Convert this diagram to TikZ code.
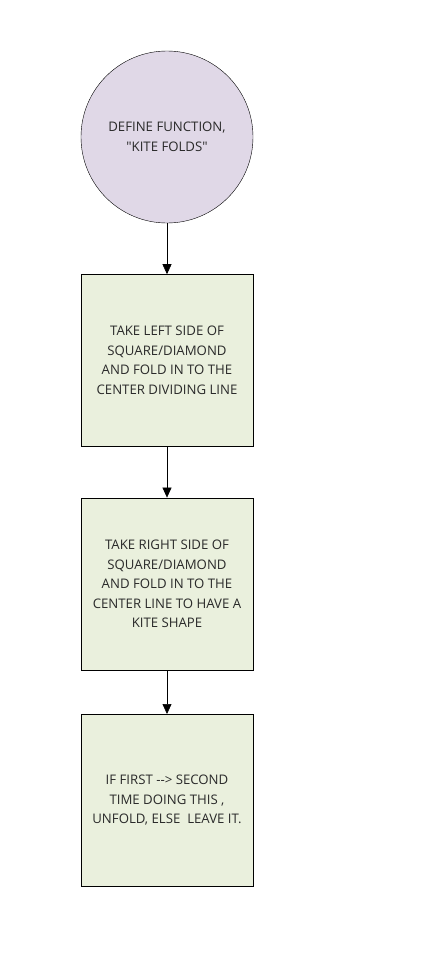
\documentclass[tikz,border=0pt]{standalone}
\usepackage{fontspec}
\setmainfont{Open Sans}[Ligatures=TeXOff]
\usetikzlibrary{positioning,arrows.meta}
\definecolor{circfill}{HTML}{E0D8E7}
\definecolor{boxfill}{HTML}{EAF0DD}
\definecolor{txt}{HTML}{2A2A2A}
\begin{document}
\begin{tikzpicture}[x=1pt,y=1pt]
\tikzstyle{every node}=[font=\fontsize{13.2}{19.5}\selectfont,text=txt,align=center]
\tikzstyle{startnode}=[circle,draw,fill=circfill,minimum size=172pt,inner sep=0pt]
\tikzstyle{stepbox}=[rectangle,draw,fill=boxfill,minimum width=172pt,minimum height=172pt,inner sep=0pt]
\tikzstyle{flow}=[-{Triangle[width=9pt,length=10pt]},semithick]
\useasboundingbox (0,0) rectangle (435,-961);
\node[startnode] (define) at (167,-137) {DEFINE FUNCTION,\\"KITE FOLDS"};
\node[stepbox,below=51pt of define] (left) {TAKE LEFT SIDE OF\\SQUARE/DIAMOND\\AND FOLD IN TO THE\\CENTER DIVIDING LINE};
\node[stepbox,below=51pt of left] (right) {TAKE RIGHT SIDE OF\\SQUARE/DIAMOND\\AND FOLD IN TO THE\\CENTER LINE TO HAVE A\\KITE SHAPE};
\node[stepbox,below=44pt of right] (unfold) {IF FIRST --> SECOND\\TIME DOING THIS ,\\UNFOLD, ELSE~ LEAVE IT.};
\draw[flow] (define) -- (left);
\draw[flow] (left) -- (right);
\draw[flow] (right) -- (unfold);
\end{tikzpicture}
\end{document}
